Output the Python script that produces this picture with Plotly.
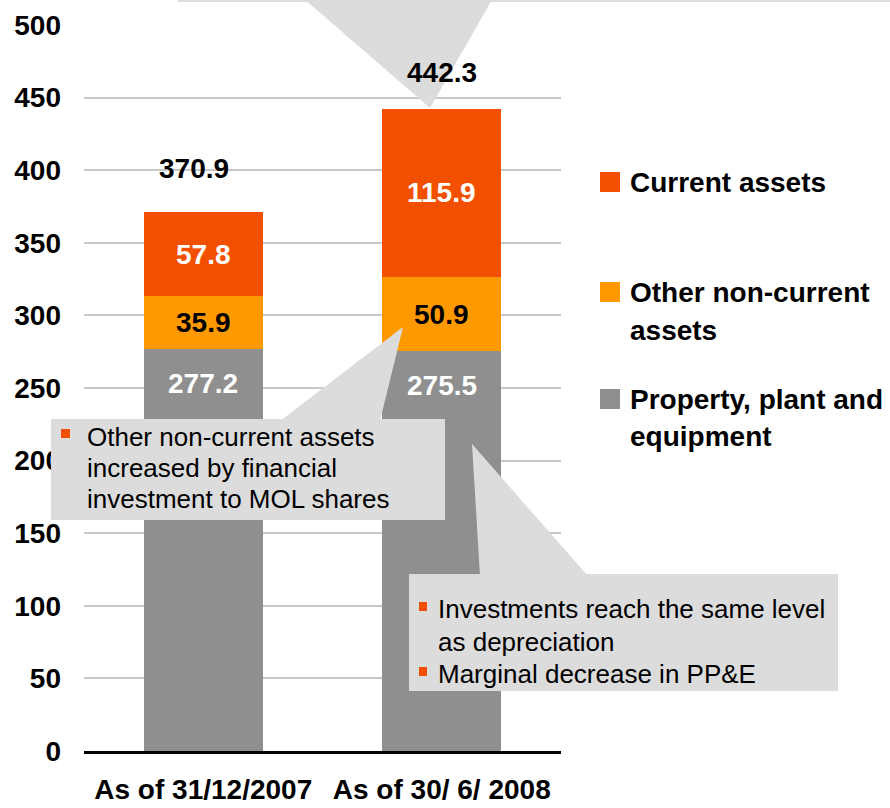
import plotly.graph_objects as go

# ---------------- data ----------------
categories = ["As of 31/12/2007", "As of 30/ 6/ 2008"]
ppe = [277.2, 275.5]            # Property, plant and equipment
other_nca = [35.9, 50.9]        # Other non-current assets
current = [57.8, 115.9]         # Current assets
totals = [370.9, 442.3]
y_ticks = [0, 50, 100, 150, 200, 250, 300, 350, 400, 450, 500]

legend_lines = [["Current assets"],
                ["Other non-current", "assets"],
                ["Property, plant and", "equipment"]]
callout_left_lines = ["Other non-current assets",
                      "increased by financial",
                      "investment to MOL shares"]
callout_right_lines = ["Investments reach the same level",
                       "as depreciation",
                       "Marginal decrease in PP&E"]
callout_right_bullets = [True, False, True]

# ---------------- style ----------------
COL_PPE = "#8F8F8F"
COL_OTHER = "#FF9900"
COL_CUR = "#F25000"
COL_CALLOUT = "#DCDCDC"
FONT = "Liberation Sans, Arial, sans-serif"

W, H = 890, 808
L, R, T, B = 84, 329, 25, 57
PW, PH = W - L - R, H - T - B


def px(x):
    return (x - L) / PW


def py(y):
    return (H - B - y) / PH


def path(points):
    s = "M " + " L ".join(f"{px(a):.5f},{py(b):.5f}" for a, b in points) + " Z"
    return s


fig = go.Figure()
fig.add_trace(go.Bar(x=categories, y=ppe, name="Property, plant and equipment",
                     marker=dict(color=COL_PPE, line=dict(width=0)), hoverinfo="skip"))
fig.add_trace(go.Bar(x=categories, y=other_nca, name="Other non-current assets",
                     marker=dict(color=COL_OTHER, line=dict(width=0)), hoverinfo="skip"))
fig.add_trace(go.Bar(x=categories, y=current, name="Current assets",
                     marker=dict(color=COL_CUR, line=dict(width=0)), hoverinfo="skip"))

annotations = []
bold28 = dict(family=FONT, size=28, weight="bold")

# value labels
for i, c in enumerate(categories):
    annotations.append(dict(x=c, y=ppe[i], xref="x", yref="y", text=f"{ppe[i]:.1f}",
                            showarrow=False, yanchor="middle", yshift=-35,
                            font=dict(bold28, color="white")))
    annotations.append(dict(x=c, y=ppe[i] + other_nca[i] / 2, xref="x", yref="y",
                            text=f"{other_nca[i]:.1f}", showarrow=False, yanchor="middle",
                            font=dict(bold28, color="black")))
    annotations.append(dict(x=c, y=ppe[i] + other_nca[i] + current[i] / 2, xref="x", yref="y",
                            text=f"{current[i]:.1f}", showarrow=False, yanchor="middle",
                            font=dict(bold28, color="white")))
total_dx = [-9, 0]
total_dy = [44, 36]
for i, c in enumerate(categories):
    annotations.append(dict(x=c, y=totals[i], xref="x", yref="y", text=f"{totals[i]:.1f}",
                            showarrow=False, yanchor="middle", yshift=total_dy[i], xshift=total_dx[i],
                            font=dict(bold28, color="black")))

shapes = []

# legend
legend_colors = [COL_CUR, COL_OTHER, COL_PPE]
legend_y = [182, 292, 399]
for lines, col, yc in zip(legend_lines, legend_colors, legend_y):
    shapes.append(dict(type="rect", xref="paper", yref="paper",
                       x0=px(600), x1=px(620), y0=py(yc - 10), y1=py(yc + 10),
                       fillcolor=col, line=dict(width=0), layer="above"))
    for k, t in enumerate(lines):
        annotations.append(dict(x=px(628), y=py(yc + 38 * k), xref="paper", yref="paper",
                                text=t, showarrow=False, xanchor="left", yanchor="middle",
                                font=dict(bold28, color="black")))

# callouts
# top (cut-off) callout
shapes.append(dict(type="rect", xref="paper", yref="paper", x0=px(178), x1=px(900),
                   y0=py(2), y1=py(-40), fillcolor=COL_CALLOUT, line=dict(width=0), layer="above"))
shapes.append(dict(type="path", xref="paper", yref="paper",
                   path=path([(303, -2), (493, -2), (430, 108)]),
                   fillcolor=COL_CALLOUT, line=dict(width=0), layer="above"))
# left callout
shapes.append(dict(type="path", xref="paper", yref="paper",
                   path=path([(280, 421), (380, 421), (403, 327)]),
                   fillcolor=COL_CALLOUT, line=dict(width=0), layer="above"))
shapes.append(dict(type="rect", xref="paper", yref="paper", x0=px(51), x1=px(445),
                   y0=py(520), y1=py(419), fillcolor=COL_CALLOUT, line=dict(width=0), layer="above"))
# right callout
shapes.append(dict(type="path", xref="paper", yref="paper",
                   path=path([(480, 576), (588, 576), (472, 444)]),
                   fillcolor=COL_CALLOUT, line=dict(width=0), layer="above"))
shapes.append(dict(type="rect", xref="paper", yref="paper", x0=px(409), x1=px(838),
                   y0=py(691), y1=py(574), fillcolor=COL_CALLOUT, line=dict(width=0), layer="above"))

reg26 = dict(family=FONT, size=26, color="black")
# left callout text
shapes.append(dict(type="rect", xref="paper", yref="paper", x0=px(61), x1=px(70),
                   y0=py(438), y1=py(429), fillcolor=COL_CUR, line=dict(width=0), layer="above"))
for k, t in enumerate(callout_left_lines):
    annotations.append(dict(x=px(85), y=py(437 + 31 * k), xref="paper", yref="paper", text=t,
                            showarrow=False, xanchor="left", yanchor="middle", font=reg26))
# right callout text
for k, (t, b) in enumerate(zip(callout_right_lines, callout_right_bullets)):
    yc = 609 + 32.5 * k
    if b:
        shapes.append(dict(type="rect", xref="paper", yref="paper", x0=px(419), x1=px(427),
                           y0=py(yc + 2), y1=py(yc - 7), fillcolor=COL_CUR,
                           line=dict(width=0), layer="above"))
    annotations.append(dict(x=px(436), y=py(yc), xref="paper", yref="paper", text=t,
                            showarrow=False, xanchor="left", yanchor="middle", font=reg26))

fig.update_layout(
    width=W, height=H,
    margin=dict(l=L, r=R, t=T, b=B, pad=0, autoexpand=False),
    paper_bgcolor="white", plot_bgcolor="white",
    barmode="stack", bargap=0.5, showlegend=False, hovermode=False,
    annotations=annotations, shapes=shapes,
    xaxis=dict(type="category", range=[-0.5, 1.5], showgrid=False, showline=True,
               linecolor="black", linewidth=2.5, ticks="", ticklabelstandoff=12,
               automargin=False,
               tickfont=dict(bold28, color="black"), fixedrange=True),
    yaxis=dict(range=[0, 500], tickvals=y_ticks, showgrid=True, gridcolor="#C8C8C8",
               gridwidth=2, zeroline=False, showline=False, ticks="", automargin=False,
               ticklabelstandoff=22, tickfont=dict(bold28, color="black"), fixedrange=True),
)

fig.write_html("out.html", config=dict(displayModeBar=False),
               post_script="document.body.style.margin='0px';document.body.style.overflow='hidden';")
